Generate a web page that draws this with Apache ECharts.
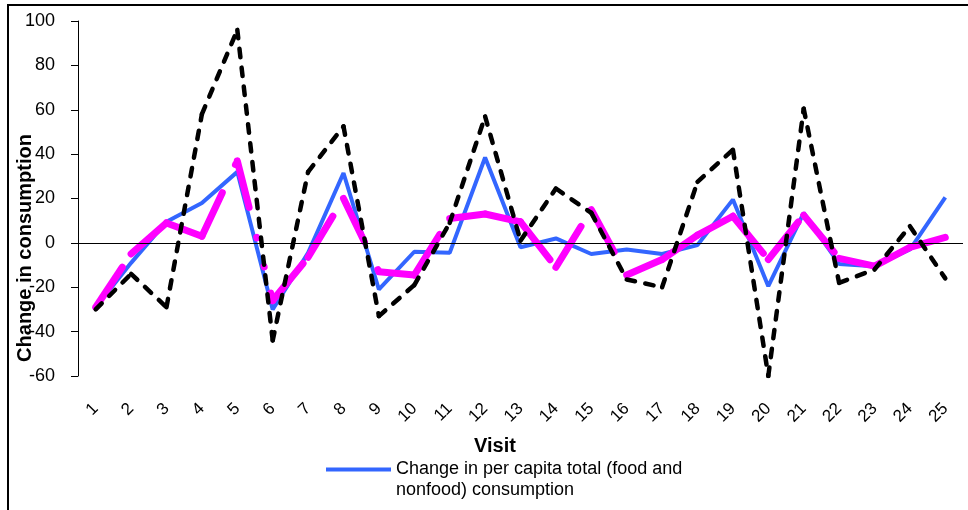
<!DOCTYPE html>
<html>
<head>
<meta charset="utf-8">
<script src="https://cdn.jsdelivr.net/npm/echarts@6/dist/echarts.min.js"></script>
<style>html,body{margin:0;padding:0;background:#fff;}#c{width:968px;height:510px;}</style>
</head>
<body>
<div id="c"></div>
<script>
const visits = ['1','2','3','4','5','6','7','8','9','10','11','12','13','14','15','16','17','18','19','20','21','22','23','24','25'];
const yTicks = { min: -60, max: 100, interval: 20 };
const totalName = 'Change in per capita total (food and nonfood) consumption';
const totalChange = [-29, -9, 9.5, 18, 32, -30, -4.5, 31.5, -21, -4, -4.5, 38.5, -2, 2, -5, -3, -5, -1, 19.5, -19.5, 13.5, -9.5, -10.5, -3, 20.5];
const magentaChange = [-29, -5, 9, 3, 37, -26, -6.5, 20, -13, -14.5, 11, 13, 9.5, -11, 15, -14.5, -7.5, 3.5, 12, -7.5, 12.5, -7, -10.5, -2, 2.5];
const blackChange = [-30, -14, -29, 58, 96, -44, 32, 52.5, -33, -19, 9, 57, 1, 24.5, 13.5, -16.5, -20, 27.5, 42, -60, 60.5, -18, -12, 7.5, -16];

const FONT = '"Liberation Sans", Arial, sans-serif';

// Excel restarts the dash pattern on every segment: one series per segment
function segmentSeries(name, vals, lineStyle, z) {
  const out = [];
  for (let i = 0; i < vals.length - 1; i++) {
    out.push({
      type: 'line', name: name, z: z, silent: true, symbol: 'none', animation: false,
      data: [[visits[i], vals[i]], [visits[i + 1], vals[i + 1]]],
      lineStyle: lineStyle
    });
  }
  return out;
}

const chart = echarts.init(document.getElementById('c'));
const series = [{
  type: 'line', name: totalName, data: totalChange, symbol: 'none', z: 2,
  animation: false, silent: true,
  lineStyle: { color: '#3366FF', width: 4 },
  itemStyle: { color: '#3366FF' },
  markLine: {
    silent: true, symbol: 'none', animation: false,
    label: { show: false },
    lineStyle: { color: '#000', width: 1, type: 'solid' },
    data: [{ yAxis: 0 }]
  }
}].concat(
  segmentSeries('Series 2', magentaChange, { color: '#FF00FF', width: 7, cap: 'round', type: [48, 31, 0.5, 29.5, 0.5, 27] }, 3),
  segmentSeries('Series 3', blackChange, { color: '#000', width: 4.5, cap: 'round', type: [8.5, 10.5] }, 4)
);

chart.setOption({
  animation: false,
  backgroundColor: '#fff',
  grid: { left: 78, right: 5, top: 21, bottom: 134 },
  xAxis: {
    type: 'category', data: visits, boundaryGap: true,
    axisLine: { show: false }, axisTick: { show: false },
    axisLabel: { rotate: 45, margin: 30, fontSize: 17, color: '#000', fontFamily: FONT, interval: 0 }
  },
  yAxis: {
    type: 'value', min: yTicks.min, max: yTicks.max, interval: yTicks.interval,
    splitLine: { show: false },
    axisLine: { show: true, lineStyle: { color: '#000', width: 1 } },
    axisTick: { show: true, length: 7, lineStyle: { color: '#000' } },
    axisLabel: { margin: 23, fontSize: 18, color: '#000', fontFamily: FONT }
  },
  legend: {
    data: [{ name: totalName, icon: 'rect' }],
    left: 326, top: 438, padding: 0,
    itemWidth: 65, itemHeight: 4,
    formatter: n => ' \n' + n.replace(' nonfood', '\nnonfood'),
    textStyle: { fontSize: 18, lineHeight: 21, color: '#000', fontFamily: FONT }
  },
  graphic: [
    { type: 'rect', silent: true, shape: { x: 8, y: 5, width: 990, height: 540 }, style: { fill: 'none', stroke: '#000', lineWidth: 2 } },
    { type: 'text', silent: true, x: 25, y: 248, rotation: Math.PI / 2,
      style: { text: 'Change in consumption', fontSize: 20, fontWeight: 'bold', fontFamily: FONT, fill: '#000', align: 'center', verticalAlign: 'middle' } },
    { type: 'text', silent: true, x: 495, y: 446,
      style: { text: 'Visit', fontSize: 20, fontWeight: 'bold', fontFamily: FONT, fill: '#000', align: 'center', verticalAlign: 'middle' } }
  ],
  series: series
});
</script>
</body>
</html>
